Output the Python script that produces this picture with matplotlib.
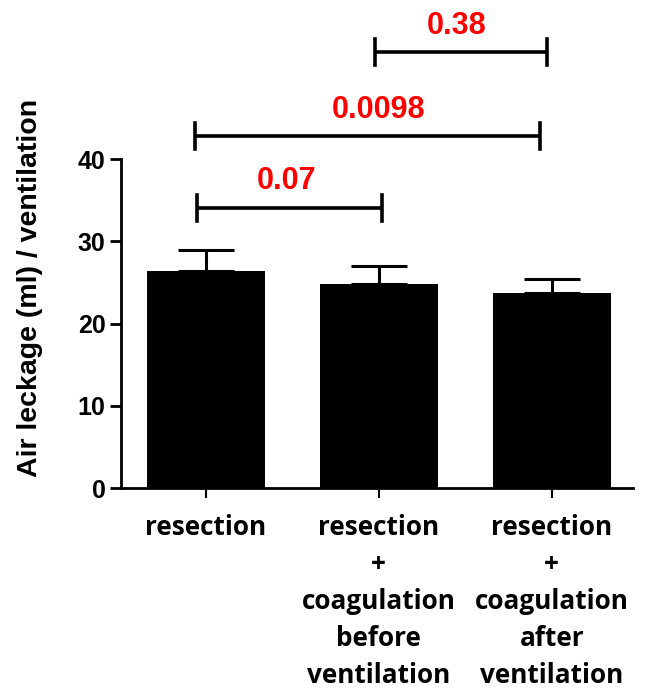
import numpy as np
import matplotlib.pyplot as plt

# data
categories = ["resection",
              "resection\n+\ncoagulation\nbefore\nventilation",
              "resection\n+\ncoagulation\nafter\nventilation"]
means = [26.4, 24.8, 23.7]
errors = [2.6, 2.2, 1.7]

# significance brackets: (left, right, height, p-value)
bracket_left = [-0.05, -0.06, 0.98]
bracket_right = [1.02, 1.93, 1.97]
bracket_height = [34.1, 42.8, 53.0]
bracket_label = ["0.07", "0.0098", "0.38"]
label_x = [0.47, 1.0, 1.45]

fig = plt.figure(figsize=(6.46, 6.89), dpi=100)
ax = fig.add_axes([121 / 646, 0.2917, 512 / 646, 0.692])

x = np.arange(len(categories))
ax.bar(x, means, width=0.68, color="black", zorder=2)
ax.errorbar(x, means, yerr=[np.zeros(len(errors)), errors], fmt="none",
            ecolor="black", elinewidth=2.2, capsize=20, capthick=2.2, zorder=1)

# brackets
for l, r, h, lab, lx in zip(bracket_left, bracket_right, bracket_height,
                            bracket_label, label_x):
    ax.plot([l, r], [h, h], color="black", lw=2.6, clip_on=False, solid_capstyle="butt")
    ax.plot([l, l], [h - 1.6, h + 1.6], color="black", lw=2.6, clip_on=False)
    ax.plot([r, r], [h - 1.6, h + 1.6], color="black", lw=2.6, clip_on=False)
    ax.text(lx, h + 3.2, lab, color="#ff0000", fontsize=22,
            fontweight="bold", family="Liberation Sans", ha="center", va="center")

ax.set_xlim(-0.49, 2.47)
ax.set_ylim(0, 58)
ax.set_yticks([0, 10, 20, 30, 40])
ax.set_xticks(x)
ax.set_xticklabels(categories, fontsize=18.8, fontweight="bold",
                   family="Open Sans", linespacing=1.47)
for t in ax.get_yticklabels():
    t.set_fontsize(18)
    t.set_fontweight("bold")
    t.set_family("Liberation Sans")

ax.spines["top"].set_visible(False)
ax.spines["right"].set_visible(False)
ax.spines["left"].set_bounds(0, 40)
ax.spines["left"].set_linewidth(2)
ax.spines["bottom"].set_linewidth(2)
ax.tick_params(axis="y", length=8, width=2, pad=3)
ax.tick_params(axis="x", length=7, width=1.5, pad=12)

ax.set_ylabel("Air leckage (ml) / ventilation", fontsize=20.5, fontweight="bold",
              family="Liberation Sans")
ax.yaxis.set_label_coords(-0.152, 0.419)

fig.savefig("out.png", dpi=100)
